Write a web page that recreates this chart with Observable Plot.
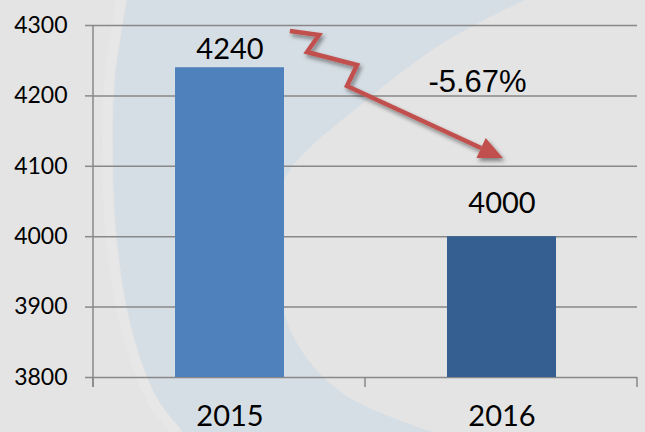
<!DOCTYPE html>
<html><head><meta charset="utf-8">
<script src="https://cdn.jsdelivr.net/npm/d3@7"></script>
<script src="https://cdn.jsdelivr.net/npm/@observablehq/plot@0.6"></script>
<style>
body{margin:0;background:#e4e4e4;}
#wrap{position:relative;width:645px;height:432px;overflow:hidden;background:#e4e4e4;}
#bg{position:absolute;left:0;top:0;}
#chart{position:absolute;left:0;top:0;}
</style></head><body>
<div id="wrap">
<svg id="bg" width="645" height="432"></svg>
<div id="chart"></div>
</div>
<script>
const years = ["2015", "2016"];
const values = [4240, 4000];
const barColors = ["#4f81bd", "#365f91"];
const yTicks = [3800, 3900, 4000, 4100, 4200, 4300];
const labelDy = [-9, -24];
const changeLabel = "-5.67%";
// annotation arrow: t = position between the two years (0 = 2015, 1 = 2016), v = value
const arrowT = [0.222, 0.329, 0.285, 0.469, 0.432, 1.005];
const arrowV = [4291.5, 4285.8, 4261.6, 4243.2, 4213.4, 4111];
const changeT = 0.912, changeV = 4205;

// faint watermark behind the chart (decoration only)
(function () {
  const outer = [[127, 0], [115, 80], [113, 150], [117, 240], [132, 330], [158, 400], [183, 432]];
  const inner = [[433, 432], [345, 395], [298, 345], [276, 280], [272, 220], [290, 170], [367, 100], [440, 45], [525, 0]];
  const line = d3.line().curve(d3.curveCatmullRom);
  const svg = d3.select("#bg");
  svg.append("path").attr("d", line(outer) + "L" + line(inner).slice(1) + "Z").attr("fill", "#d6dee5");
  svg.append("path").attr("d", line(outer.map(([x, y]) => [x - 6, y]))).attr("fill", "none")
    .attr("stroke", "#e9e9e9").attr("stroke-width", 10).attr("opacity", 0.5);
})();

const data = years.map((y, i) => ({year: y, value: values[i], dy: labelDy[i]}));
const yMin = yTicks[0], yMax = yTicks[yTicks.length - 1];

function overlay(index, scales, values, dims) {
  const {x, y} = scales;
  const bw = x.bandwidth ? x.bandwidth() : 0;
  const c0 = x(years[0]) + bw / 2, c1 = x(years[1]) + bw / 2;
  const px = t => c0 + t * (c1 - c0);
  const g = d3.create("svg:g");
  const left = dims.marginLeft, right = dims.width - dims.marginRight;
  const base = y(yMin);
  g.append("line").attr("x1", left).attr("x2", left).attr("y1", y(yMax)).attr("y2", base + 10)
    .attr("stroke", "#888").attr("stroke-width", 1.5);
  for (let i = 0; i <= years.length; i++) {
    const xx = left + i * (right - left) / years.length;
    g.append("line").attr("x1", xx).attr("x2", xx).attr("y1", base).attr("y2", base + 10)
      .attr("stroke", "#888").attr("stroke-width", 1.5);
  }
  const f = g.append("defs").append("filter").attr("id", "sh").attr("x", "-20%").attr("y", "-20%").attr("width", "140%").attr("height", "140%");
  f.append("feDropShadow").attr("dx", 2).attr("dy", 3).attr("stdDeviation", 2.2)
    .attr("flood-color", "#000").attr("flood-opacity", 0.45);
  const pts = arrowT.map((t, i) => [px(t), y(arrowV[i])]);
  const tip = pts[pts.length - 1], prev = pts[pts.length - 2];
  const dx = tip[0] - prev[0], dy = tip[1] - prev[1], L = Math.hypot(dx, dy);
  const ux = dx / L, uy = dy / L, hl = 24, hw = 11;
  const bc = [tip[0] - hl * ux, tip[1] - hl * uy];
  const shaft = pts.slice(0, -1).concat([bc]);
  const ag = g.append("g").attr("filter", "url(#sh)");
  ag.append("path").attr("d", "M" + shaft.map(p => p.join(",")).join("L"))
    .attr("fill", "none").attr("stroke", "#c0504d").attr("stroke-width", 4.5)
    .attr("stroke-linejoin", "miter").attr("stroke-miterlimit", 10);
  ag.append("path").attr("d", `M${tip[0]},${tip[1]}L${bc[0] - hw * uy},${bc[1] + hw * ux}L${bc[0] + hw * uy},${bc[1] - hw * ux}Z`)
    .attr("fill", "#c0504d");
  g.append("text").attr("x", px(changeT)).attr("y", y(changeV))
    .attr("text-anchor", "middle").attr("font-family", "Liberation Sans, Arial, sans-serif")
    .attr("font-size", 31).attr("fill", "#000").text(changeLabel);
  return g.node();
}

const plot = Plot.plot({
  width: 645, height: 432,
  marginLeft: 93, marginRight: 8, marginTop: 25, marginBottom: 55,
  style: {background: "transparent", fontFamily: "Lato, sans-serif", color: "#000", overflow: "visible"},
  x: {domain: years, paddingInner: 0.6, paddingOuter: 0.3, label: null},
  y: {domain: [yMin, yMax], label: null},
  color: {domain: years, range: barColors},
  marks: [
    Plot.gridY(yTicks, {stroke: "#888", strokeOpacity: 1, strokeWidth: 1.5}),
    Plot.barY(data, {x: "year", y1: yMin, y2: "value", fill: "year"}),
    Plot.axisY(yTicks, {tickSize: 8, tickPadding: 18, fontSize: 23, stroke: "#888", strokeWidth: 1.5, tickFormat: "d", label: null}),
    Plot.axisX({tickSize: 0, tickPadding: 28, fontSize: 29, label: null}),
    Plot.text(data.filter((d, i) => i === 0), {x: "year", y: "value", text: d => String(d.value), dy: labelDy[0], lineAnchor: "bottom", fontSize: 29, fill: "#000"}),
    Plot.text(data.filter((d, i) => i === 1), {x: "year", y: "value", text: d => String(d.value), dy: labelDy[1], lineAnchor: "bottom", fontSize: 29, fill: "#000"}),
    overlay
  ]
});
document.getElementById("chart").appendChild(plot);
</script>
</body></html>
